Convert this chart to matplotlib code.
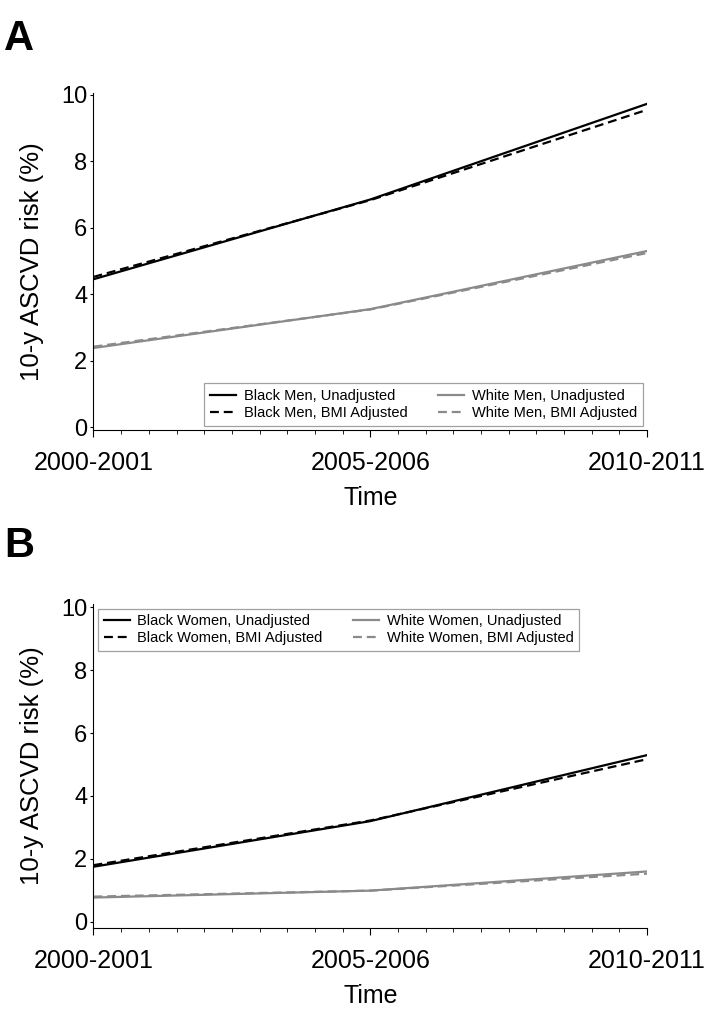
import numpy as np
import matplotlib
matplotlib.use("Agg")
import matplotlib.pyplot as plt
from matplotlib.ticker import MultipleLocator

plt.rcParams['font.family'] = ['Liberation Sans', 'DejaVu Sans']

# data
periods = ["2000-2001", "2005-2006", "2010-2011"]
black_men_unadj = [4.45, 6.85, 9.73]
black_men_bmi = [4.52, 6.83, 9.55]
white_men_unadj = [2.38, 3.55, 5.30]
white_men_bmi = [2.42, 3.54, 5.24]

black_women_unadj = [1.75, 3.20, 5.30]
black_women_bmi = [1.80, 3.22, 5.17]
white_women_unadj = [0.77, 0.99, 1.60]
white_women_bmi = [0.80, 0.99, 1.53]

GRAY = "#8a8a8a"

fig = plt.figure(figsize=(7.19, 10.24), dpi=100)

def draw_panel(ax, series, loc):
    x = np.arange(len(periods))
    for lab, vals, col, ls in series:
        ax.plot(x, vals, color=col, linestyle=ls, linewidth=1.6,
                dashes=(4, 2.2) if ls == "--" else (None, None), label=lab)
    ax.set_xlim(0, 2)
    ax.set_xticks(x)
    ax.set_xticklabels(periods, fontsize=18)
    ax.xaxis.set_minor_locator(MultipleLocator(0.1))
    ax.set_yticks([0, 2, 4, 6, 8, 10])
    ax.tick_params(axis='y', labelsize=17, length=2.5, width=0.8, pad=2)
    ax.tick_params(axis='x', which='major', length=5, width=0.8, pad=10)
    ax.tick_params(axis='x', which='minor', length=3, width=0.6)
    ax.spines['top'].set_visible(False)
    ax.spines['right'].set_visible(False)
    ax.set_xlabel("Time", fontsize=18, labelpad=8)
    ax.set_ylabel("10-y ASCVD risk (%)", fontsize=18.5, labelpad=12)
    leg = ax.legend(ncol=2, loc=loc,
                    fontsize=10.5, frameon=True, fancybox=False,
                    handlelength=1.8, handletextpad=0.5, columnspacing=2.1,
                    borderpad=0.4, labelspacing=0.2, borderaxespad=0.3)
    leg.get_frame().set_edgecolor(GRAY)
    leg.get_frame().set_linewidth(0.9)
    return leg

ax1 = fig.add_axes([0.130, 0.580, 0.770, 0.329])
draw_panel(ax1, [
    ("Black Men, Unadjusted", black_men_unadj, "black", "-"),
    ("Black Men, BMI Adjusted", black_men_bmi, "black", "--"),
    ("White Men, Unadjusted", white_men_unadj, GRAY, "-"),
    ("White Men, BMI Adjusted", white_men_bmi, GRAY, "--"),
], "lower right")
ax1.set_ylim(-0.09, 10.05)

ax2 = fig.add_axes([0.130, 0.094, 0.770, 0.316])
draw_panel(ax2, [
    ("Black Women, Unadjusted", black_women_unadj, "black", "-"),
    ("Black Women, BMI Adjusted", black_women_bmi, "black", "--"),
    ("White Women, Unadjusted", white_women_unadj, GRAY, "-"),
    ("White Women, BMI Adjusted", white_women_bmi, GRAY, "--"),
], "upper left")
ax2.set_ylim(-0.19, 10.1)

fig.text(0.006, 0.962, "A", fontsize=30, fontweight='bold', va='center', ha='left')
fig.text(0.006, 0.467, "B", fontsize=30, fontweight='bold', va='center', ha='left')

fig.savefig("out.png", dpi=100)
